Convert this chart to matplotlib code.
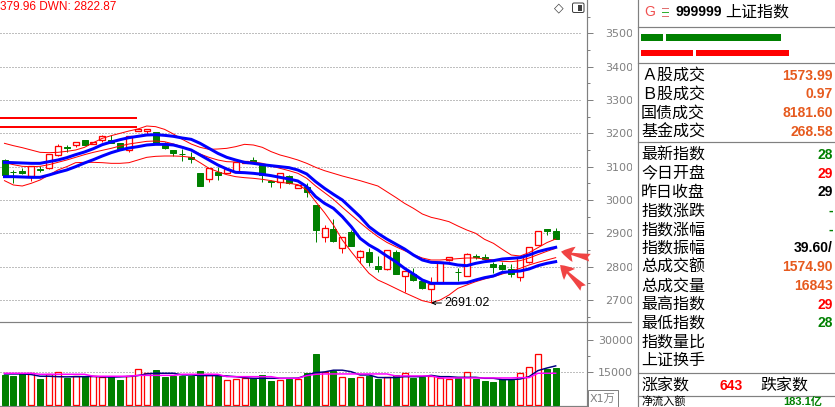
import matplotlib
matplotlib.use("Agg")
import matplotlib.pyplot as plt
from matplotlib.patches import Rectangle, FancyBboxPatch

# ---------------- data ----------------
opens = [3120, 3085, 3088, 3073, 3093, 3095, 3134, 3158, 3166, 3180,
         3167, 3179, 3180, 3171, 3150, 3206, 3208, 3203, 3169, 3150,
         3138, 3129, 3080, 3062, 3084, 3082, 3085, 3112, 3120, 3105,
         3056, 3055, 3072, 3037, 3040, 2985, 2890, 2913, 2855, 2905,
         2830, 2843, 2803, 2792, 2843, 2773, 2778, 2757, 2733, 2752,
         2820, 2784, 2772, 2831, 2828, 2808, 2805, 2793, 2770, 2815,
         2865, 2912, 2906]
highs = [3122, 3090, 3097, 3101, 3102, 3139, 3168, 3165, 3173, 3180,
         3175, 3195, 3195, 3171, 3192, 3213, 3213, 3205, 3173, 3150,
         3154, 3143, 3082, 3095, 3100, 3092, 3114, 3118, 3128, 3105,
         3060, 3080, 3075, 3045, 3050, 2985, 2925, 2943, 2890, 2910,
         2850, 2855, 2832, 2850, 2850, 2788, 2795, 2760, 2770, 2813,
         2830, 2795, 2842, 2838, 2837, 2813, 2813, 2807, 2832, 2860,
         2907, 2912, 2915]
lows = [3073, 3052, 3077, 3058, 3085, 3093, 3132, 3145, 3160, 3164,
        3167, 3175, 3170, 3150, 3145, 3206, 3198, 3170, 3153, 3133,
        3118, 3112, 3043, 3055, 3060, 3080, 3085, 3110, 3110, 3055,
        3040, 3037, 3048, 3035, 3010, 2875, 2875, 2875, 2840, 2863,
        2812, 2803, 2785, 2790, 2778, 2723, 2758, 2732, 2691.02, 2752,
        2818, 2758, 2772, 2823, 2820, 2780, 2790, 2768, 2758, 2812,
        2865, 2895, 2884]
closes = [3075, 3083, 3082, 3101, 3091, 3137, 3162, 3156, 3173, 3164,
          3174, 3191, 3172, 3153, 3192, 3213, 3213, 3172, 3157, 3142,
          3137, 3122, 3043, 3095, 3075, 3092, 3114, 3116, 3112, 3075,
          3055, 3080, 3050, 3045, 3025, 2910, 2915, 2878, 2890, 2863,
          2847, 2815, 2792, 2850, 2778, 2788, 2760, 2737, 2748, 2813,
          2828, 2783, 2837, 2830, 2822, 2800, 2792, 2777, 2830, 2860,
          2907, 2907, 2884]

channel_upper = [3113, 3112, 3111, 3110, 3110, 3115, 3120, 3127, 3136, 3144,
                 3154, 3166, 3174, 3181, 3187, 3191, 3195, 3196, 3194, 3191,
                 3186, 3182, 3170, 3155, 3140, 3128, 3120, 3113, 3110, 3106,
                 3103, 3100, 3097, 3090, 3078, 3055, 3035, 3017, 3000, 2975,
                 2950, 2920, 2900, 2883, 2868, 2853, 2835, 2820, 2813, 2812,
                 2810, 2805, 2803, 2810, 2815, 2818, 2823, 2825, 2827, 2835,
                 2845, 2852, 2858]
channel_lower = [3070, 3070, 3069, 3068, 3068, 3075, 3083, 3090, 3100, 3111,
                 3121, 3132, 3142, 3150, 3156, 3160, 3165, 3167, 3167, 3165,
                 3158, 3150, 3135, 3120, 3105, 3093, 3083, 3082, 3080, 3077,
                 3073, 3068, 3063, 3057, 3040, 3010, 2990, 2975, 2950, 2920,
                 2885, 2865, 2850, 2832, 2815, 2795, 2778, 2760, 2750, 2750,
                 2750, 2750, 2752, 2760, 2767, 2772, 2783, 2785, 2787, 2793,
                 2803, 2810, 2815]
boll_upper = [3170, 3163, 3157, 3150, 3143, 3142, 3143, 3146, 3150, 3158,
              3172, 3185, 3193, 3200, 3207, 3213, 3222, 3220, 3212, 3198,
              3182, 3168, 3158, 3152, 3153, 3155, 3160, 3167, 3165, 3158,
              3145, 3135, 3128, 3120, 3110, 3098, 3088, 3080, 3072, 3065,
              3058, 3050, 3042, 3025, 3008, 2990, 2975, 2958, 2948, 2942,
              2935, 2922, 2910, 2900, 2882, 2870, 2852, 2835, 2832, 2842,
              2857, 2872, 2883]
boll_mid = [3112, 3106, 3101, 3100, 3101, 3106, 3113, 3120, 3128, 3136,
            3143, 3149, 3155, 3162, 3168, 3172, 3176, 3177, 3175, 3168,
            3160, 3150, 3138, 3128, 3120, 3115, 3114, 3115, 3114, 3110,
            3102, 3095, 3088, 3080, 3065, 3042, 3022, 3002, 2978, 2955,
            2932, 2910, 2890, 2873, 2860, 2848, 2836, 2826, 2820, 2820,
            2822, 2824, 2826, 2826, 2823, 2820, 2816, 2815, 2818, 2826,
            2836, 2846, 2855]
boll_lower = [3058, 3045, 3042, 3050, 3060, 3075, 3090, 3100, 3112, 3113,
              3113, 3112, 3110, 3110, 3112, 3120, 3128, 3131, 3132, 3132,
              3131, 3128, 3112, 3095, 3085, 3076, 3070, 3067, 3065, 3062,
              3058, 3053, 3050, 3046, 3030, 2995, 2962, 2925, 2880, 2845,
              2812, 2780, 2760, 2748, 2735, 2722, 2710, 2698, 2692, 2700,
              2715, 2735, 2745, 2755, 2763, 2770, 2778, 2787, 2795, 2805,
              2813, 2820, 2827]

volumes = [13790, 13330, 14260, 14580, 11930, 14110, 15040, 12400, 13470, 13470,
           13190, 12860, 13190, 11470, 13470, 16440, 14580, 16110, 12860, 13470,
           13470, 13470, 15650, 14260, 13330, 11470, 11780, 12400, 12550, 13790,
           11000, 11470, 11930, 11930, 14880, 23700, 15330, 15800, 12700, 12550,
           12700, 13330, 12080, 12700, 13790, 14730, 12400, 12860, 13190, 12240,
           11930, 12550, 15040, 12080, 11160, 10690, 12080, 11470, 14730, 17360,
           23540, 16720, 17180]
vol_ma5 = [14260, 14260, 14260, 14000, 13190, 13190, 13000, 12900, 13000, 13000,
           13100, 12900, 12800, 12900, 13100, 13500, 14300, 14580, 14580, 14580,
           13800, 13800, 13500, 13470, 13470, 13300, 13000, 12500, 12240, 12240,
           12240, 12240, 12240, 12300, 13700, 14880, 15200, 16000, 16000, 15300,
           13790, 13790, 12600, 12550, 12600, 13000, 13000, 13000, 13600, 13000,
           13000, 12700, 12700, 12700, 12240, 12240, 11620, 11620, 11900, 13000,
           15800, 17000, 18000]
vol_ma10 = [14580, 14580, 14580, 14580, 14100, 14100, 14100, 14100, 14100, 14100,
            13190, 13190, 13190, 13190, 13190, 13600, 13600, 13600, 13600, 13600,
            14100, 14100, 14100, 14100, 14100, 13000, 13000, 13000, 13000, 13000,
            13000, 12240, 12240, 12240, 13470, 14100, 14260, 14260, 14260, 14260,
            14260, 14260, 14260, 14260, 13330, 13330, 13330, 13330, 13330, 12400,
            12400, 12400, 12400, 12400, 12400, 12400, 12400, 12400, 12550, 12550,
            14580, 14580, 14580]

price_ticks = [2700, 2800, 2900, 3000, 3100, 3200, 3300, 3400, 3500]
price_minor = [2650, 2750, 2850, 2950, 3050, 3150, 3250, 3350, 3450, 3550]
vol_ticks = [15000, 30000]
vol_minor = [22500]
drawn_levels = [3247, 3220]
low_index = 48
title_text = "379.96 DWN: 2822.87"

panel_title_code = "999999"
panel_title_name = "上证指数"
group1_labels = ["Ａ股成交", "Ｂ股成交", "国债成交", "基金成交"]
group1_values = ["1573.99", "0.97", "8181.60", "268.58"]
group2_labels = ["最新指数", "今日开盘", "昨日收盘", "指数涨跌", "指数涨幅", "指数振幅",
                 "总成交额", "总成交量", "最高指数", "最低指数", "指数量比", "上证换手"]
# only the part of each value that is visible in the picture
group2_values = ["28", "29", "29", "-", "-", "39.60/",
                 "1574.90", "16843", "29", "28", "", ""]
group2_colors = ["#008000", "#ff0000", "#000000", "#008000", "#008000", "#000000",
                 "#e65a1e", "#e65a1e", "#ff0000", "#008000", "#000000", "#000000"]
up_count = "643"
flow_value = "183.1亿"

# ---------------- layout ----------------
W, H, DPI = 835, 407, 100
PX = 8.89      # pixels per candle
X0 = 4.5       # pixel centre of first candle
AXR = 587      # pixel x of the value axis
GRAY = "#808080"
RED = "#ff0000"
GREEN = "#008000"
ORANGE = "#e65a1e"
CJK = ["Noto Sans CJK SC", "DejaVu Sans"]
LAT = ["Liberation Sans", "DejaVu Sans"]
plt.rcParams["font.family"] = LAT

fig = plt.figure(figsize=(W / DPI, H / DPI), dpi=DPI)
fig.patch.set_facecolor("white")


def rect(x0, y0, x1, y1):
    return [x0 / W, 1 - y1 / H, (x1 - x0) / W, (y1 - y0) / H]


xlim = (-X0 / PX, (AXR - X0) / PX)
n = len(opens)
xs = list(range(n))
px = 1.0 * 72 / DPI  # one pixel in points

# ---------------- price panel ----------------
ax = fig.add_axes(rect(0, 0, AXR, 322))
ax.set_xlim(*xlim)
ax.set_ylim(2700 - 22 * 3, 2700 + 300 * 3)
for s in ("top", "left", "bottom"):
    ax.spines[s].set_visible(False)
ax.spines["right"].set_color(GRAY)
ax.spines["right"].set_linewidth(px * 1.2)
ax.set_xticks([])
ax.yaxis.tick_right()
ax.set_yticks(price_ticks)
ax.set_yticks(price_minor, minor=True)
ax.tick_params(axis="y", which="major", length=6 * px, width=px, color=GRAY,
               labelsize=8, labelcolor=GRAY, pad=12 * px)
ax.tick_params(axis="y", which="minor", length=3 * px, width=px, color=GRAY)
for lab in ax.get_yticklabels():
    lab.set_family(["DejaVu Sans"])

grid_end = (582 - X0) / PX
ax.hlines(price_ticks, xlim[0], grid_end, colors=GRAY, lw=px,
          linestyles=(0, (1, 2)), zorder=1)

bw = 6 / PX
for i in xs:
    o, h, l, c = opens[i], highs[i], lows[i], closes[i]
    if c >= o:
        ax.vlines(i, max(o, c), h, colors=RED, lw=px, zorder=3)
        ax.vlines(i, l, min(o, c), colors=RED, lw=px, zorder=3)
        ax.bar(i, max(c - o, 0.01), bottom=o, width=bw, facecolor="white",
               edgecolor=RED, lw=1.3 * px, zorder=3)
    else:
        ax.vlines(i, l, h, colors=GREEN, lw=px, zorder=3)
        ax.bar(i, o - c, bottom=c, width=bw, facecolor=GREEN,
               edgecolor=GREEN, lw=px, zorder=3)

ax.plot(xs, boll_upper, color=RED, lw=px, zorder=4)
ax.plot(xs, boll_mid, color=RED, lw=px, zorder=4)
ax.plot(xs, boll_lower, color=RED, lw=px, zorder=4)
ax.plot(xs, channel_upper, color="#0000ff", lw=3 * px, zorder=5)
ax.plot(xs, channel_lower, color="#0000ff", lw=3 * px, zorder=5)

ax.hlines(drawn_levels, xlim[0], (137 - X0) / PX, colors=RED, lw=2 * px, zorder=4)

ax.annotate(f"{lows[low_index]:.2f}", xy=(low_index, lows[low_index]),
            xytext=(13, 0), textcoords="offset pixels", ha="left", va="center",
            fontsize=9, color="black", zorder=6,
            arrowprops=dict(arrowstyle="->", color="black", lw=px,
                            shrinkA=0, shrinkB=0, mutation_scale=6))

arrow_style = "fancy,head_length=0.6,head_width=0.7,tail_width=0.35"
ax.annotate("", xy=(n - 1 + 0.6, channel_upper[-1] - 13), xytext=(29, -6),
            textcoords="offset pixels", annotation_clip=False,
            arrowprops=dict(arrowstyle=arrow_style, color="#f04444", lw=0,
                            mutation_scale=16, shrinkA=0, shrinkB=0))
ax.annotate("", xy=(n - 1 + 0.5, channel_lower[-1] - 10), xytext=(23, -23),
            textcoords="offset pixels", annotation_clip=False,
            arrowprops=dict(arrowstyle=arrow_style, color="#f04444", lw=0,
                            mutation_scale=16, shrinkA=0, shrinkB=0))

# ---------------- volume panel ----------------
vpp = 15000 / 32.3
ax2 = fig.add_axes(rect(0, 322, AXR, 406))
ax2.set_xlim(*xlim)
ax2.set_ylim(-(406 - 404.65) * vpp, (404.65 - 322) * vpp)
for s in ("top", "left"):
    ax2.spines[s].set_visible(False)
for s in ("right", "bottom"):
    ax2.spines[s].set_color(GRAY)
    ax2.spines[s].set_linewidth(px * 1.2)
ax2.set_xticks([])
ax2.yaxis.tick_right()
ax2.set_yticks(vol_ticks)
ax2.set_yticks(vol_minor, minor=True)
ax2.tick_params(axis="y", which="major", length=6 * px, width=px, color=GRAY,
                labelsize=8, labelcolor=GRAY, pad=5 * px)
ax2.tick_params(axis="y", which="minor", length=3 * px, width=px, color=GRAY)
for lab in ax2.get_yticklabels():
    lab.set_family(["DejaVu Sans"])
ax2.hlines([vol_ticks[0]], xlim[0], (584 - X0) / PX, colors=GRAY, lw=px,
           linestyles=(0, (1, 2)), zorder=1)

for i in xs:
    if closes[i] >= opens[i]:
        ax2.bar(i, volumes[i], width=bw, facecolor="white", edgecolor=RED,
                lw=1.3 * px, zorder=3)
    else:
        ax2.bar(i, volumes[i], width=bw, facecolor=GREEN, edgecolor=GREEN,
                lw=px, zorder=3)
ax2.plot(xs, vol_ma5, color="#000080", lw=1.5 * px, zorder=4)
ax2.plot(xs, vol_ma10, color="#ff00ff", lw=1.5 * px, zorder=4)

# ---------------- overlay (title, info panel) ----------------
ov = fig.add_axes([0, 0, 1, 1])
ov.set_xlim(0, W)
ov.set_ylim(H, 0)
ov.axis("off")
ov.set_facecolor("none")

ov.text(0.5, 7.5, title_text, color=RED, fontsize=8.5, va="center", ha="left")
ov.text(559, 8, "◇", color="#404040", fontsize=9, va="center", ha="center",
        family=["DejaVu Sans"])
ov.add_patch(FancyBboxPatch((572.5, 3), 11.5, 9.5,
                            boxstyle="round,pad=0,rounding_size=1.5",
                            fc="white", ec="#404040", lw=px))
ov.add_patch(Rectangle((578, 4.8), 3.5, 6, fc="#404040", ec="none"))

# X1万 box
ov.add_patch(Rectangle((588, 390), 30, 16.5, fc="white", ec=GRAY, lw=px))
ov.text(603, 398.5, "X1万", color=GRAY, fontsize=8, va="center", ha="center",
        family=["DejaVu Sans", "Noto Sans CJK SC"])

# separator between panels
ov.plot([0, 638], [322, 322], color=GRAY, lw=1.2 * px)

# right info panel
ov.add_patch(Rectangle((632, 0), W - 632, H, fc="white", ec="none", zorder=2))
ov.plot([638, 638], [0, H], color=GRAY, lw=1.2 * px, zorder=3)
for yy in (27, 63, 142, 373, 396):
    ov.plot([638, W], [yy, yy], color=GRAY, lw=1.2 * px, zorder=3)

ov.text(644, 12, "G", color="#f05050", fontsize=10, va="center", ha="left", zorder=4)
for yy, col in ((8.3, "#e07070"), (12, "#30b030"), (15.7, "#e07070")):
    ov.plot([662, 668], [yy, yy], color=col, lw=px, zorder=4)
ov.text(675, 12, panel_title_code, color="black", fontsize=10, fontweight="bold",
        va="center", ha="left", zorder=4)
ov.text(725, 12, panel_title_name, color="black", fontsize=11.5, va="center",
        ha="left", family=CJK, zorder=4)

ov.add_patch(Rectangle((641, 34.3), 22, 6.3, fc=GREEN, ec="none", zorder=4))
ov.add_patch(Rectangle((666, 34.3), 115, 6.3, fc=GREEN, ec="none", zorder=4))
ov.add_patch(Rectangle((641, 49.7), 52, 6, fc=RED, ec="none", zorder=4))
ov.add_patch(Rectangle((696, 49.7), 93, 6, fc=RED, ec="none", zorder=4))

for k, (lab, val) in enumerate(zip(group1_labels, group1_values)):
    yy = 75.5 + 18.9 * k
    ov.text(641, yy, lab, color="black", fontsize=11.5, va="center", ha="left",
            family=CJK, zorder=4)
    ov.text(833, yy, val, color=ORANGE, fontsize=10, fontweight="bold",
            va="center", ha="right", zorder=4)

for k, (lab, val, col) in enumerate(zip(group2_labels, group2_values,
                                        group2_colors)):
    yy = 155 + 18.7 * k
    ov.text(641, yy, lab, color="black", fontsize=11.5, va="center", ha="left",
            family=CJK, zorder=4)
    if val:
        ov.text(833, yy, val, color=col, fontsize=10, fontweight="bold",
                va="center", ha="right", zorder=4)

ov.text(641, 386, "涨家数", color="black", fontsize=11.5, va="center", ha="left",
        family=CJK, zorder=4)
ov.text(720, 386, up_count, color=RED, fontsize=10, fontweight="bold",
        va="center", ha="left", zorder=4)
ov.text(760, 386, "跌家数", color="black", fontsize=11.5, va="center", ha="left",
        family=CJK, zorder=4)
ov.text(641, 401.5, "净流入额", color="black", fontsize=8, va="center", ha="left",
        family=CJK, zorder=4)
ov.text(783, 401.5, flow_value, color=GREEN, fontsize=8, fontweight="bold",
        va="center", ha="left", family=["Liberation Sans", "Noto Sans CJK SC"],
        zorder=4)

fig.savefig("out.png", dpi=DPI, facecolor="white")
